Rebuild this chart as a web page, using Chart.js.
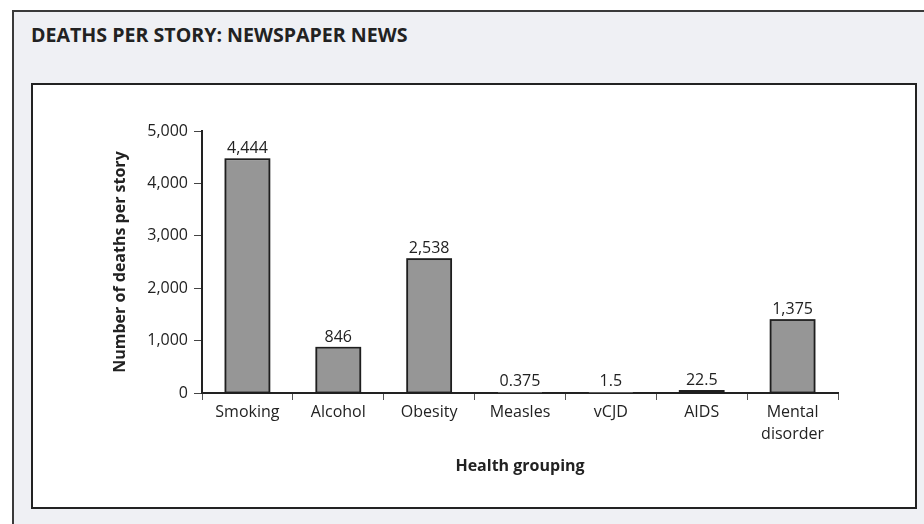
<!DOCTYPE html>
<html>
<head>
<meta charset="utf-8">
<script src="https://cdn.jsdelivr.net/npm/chart.js@4"></script>
<style>
  html, body { margin: 0; padding: 0; width: 924px; height: 524px; overflow: hidden; background: #ffffff; }
  #outer { position: absolute; left: 12px; top: 10px; width: 940px; height: 540px;
           background: #eff0f4; border-top: 2px solid #3a3a3a; border-left: 2px solid #3a3a3a; }
  #title { position: absolute; left: 31px; top: 23px; font-family: "Open Sans", sans-serif; font-weight: 700;
           font-size: 19.6px; line-height: 24px; color: #222; white-space: nowrap; }
  #inner { position: absolute; left: 31px; top: 83px; width: 882px; height: 422px;
           background: #ffffff; border: 2px solid #222; }
  #c { position: absolute; left: 0; top: 0; }
</style>
</head>
<body>
<div id="outer"></div>
<div id="title">DEATHS PER STORY: NEWSPAPER NEWS</div>
<div id="inner"></div>
<canvas id="c" width="924" height="524"></canvas>
<script>
const categories = ['Smoking', 'Alcohol', 'Obesity', 'Measles', 'vCJD', 'AIDS', ['Mental', 'disorder']];
const deathsPerStory = [4444, 846, 2538, 0.375, 1.5, 22.5, 1375];
const yTicks = [0, 1000, 2000, 3000, 4000, 5000];
const yAxisTitle = 'Number of deaths per story';
const xAxisTitle = 'Health grouping';

const FONT = '"Open Sans", sans-serif';
const fmt = v => v.toLocaleString('en-US', { maximumFractionDigits: 3 });

const extras = {
  id: 'extras',
  afterDatasetsDraw(chart) {
    const ctx = chart.ctx;
    const meta = chart.getDatasetMeta(0);
    ctx.save();
    ctx.strokeStyle = '#1e1e1e';
    const lw = 1.8;
    ctx.lineWidth = lw;
    meta.data.forEach((bar) => {
      const h = bar.base - bar.y;
      if (h >= 0.5) {
        ctx.strokeRect(bar.x - bar.width / 2, bar.y - lw / 2, bar.width, h + lw / 2);
      }
    });
    // data labels
    ctx.fillStyle = '#222';
    ctx.font = '16px ' + FONT;
    ctx.textAlign = 'center';
    ctx.textBaseline = 'alphabetic';
    meta.data.forEach((bar, i) => {
      ctx.fillText(fmt(deathsPerStory[i]), bar.x, bar.y - 7);
    });
    // axis titles
    const area = chart.chartArea;
    ctx.font = 'bold 16px ' + FONT;
    ctx.textBaseline = 'middle';
    ctx.fillText(xAxisTitle, (area.left + area.right) / 2, 466);
    ctx.translate(120, (area.top + area.bottom) / 2);
    ctx.rotate(-Math.PI / 2);
    ctx.fillText(yAxisTitle, 0, 0);
    ctx.restore();
  }
};

new Chart(document.getElementById('c'), {
  type: 'bar',
  data: {
    labels: categories,
    datasets: [{
      data: deathsPerStory,
      backgroundColor: '#969696',
      borderWidth: 0,
      categoryPercentage: 1,
      barPercentage: 0.484
    }]
  },
  options: {
    responsive: false,
    animation: false,
    events: [],
    layout: { padding: { left: 100, right: 86, top: 131, bottom: 71 } },
    plugins: { legend: { display: false }, tooltip: { enabled: false }, title: { display: false } },
    scales: {
      x: {
        afterFit: s => { s.height = 60; },
        grid: { offset: true, drawOnChartArea: false, drawTicks: true, tickLength: 7, color: '#555', lineWidth: 1 },
        border: { display: true, color: '#222', width: 2 },
        ticks: { font: { family: FONT, size: 16, lineHeight: 1.35 }, color: '#222', padding: 2, maxRotation: 0, autoSkip: false }
      },
      y: {
        min: 0, max: 5000,
        afterFit: s => { s.width = 102; },
        afterBuildTicks: s => { s.ticks = yTicks.map(v => ({ value: v })); },
        grid: { drawOnChartArea: false, drawTicks: true, tickLength: 8, color: '#444', lineWidth: 1 },
        border: { display: true, color: '#222', width: 2 },
        ticks: { font: { family: FONT, size: 16 }, color: '#222', padding: 6, callback: v => fmt(v) }
      }
    }
  },
  plugins: [extras]
});
</script>
</body>
</html>
